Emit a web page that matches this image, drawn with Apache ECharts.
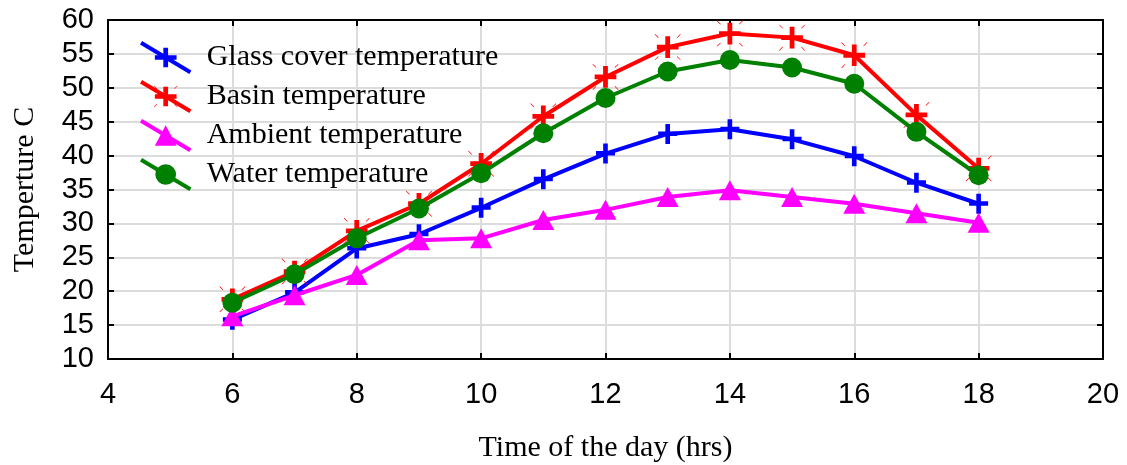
<!DOCTYPE html>
<html>
<head>
<meta charset="utf-8">
<script src="https://cdn.jsdelivr.net/npm/echarts@6/dist/echarts.min.js"></script>
<style>
  html, body { margin: 0; padding: 0; background: #ffffff; }
  #chart { width: 1127px; height: 465px; }
</style>
</head>
<body>
<div id="chart"></div>
<script>
// Hourly temperatures of a solar still
const hours = [6, 7, 8, 9, 10, 11, 12, 13, 14, 15, 16, 17, 18];
const glassCover = [15.8, 19.8, 26.3, 28.4, 32.3, 36.5, 40.3, 43.2, 43.9, 42.4, 39.9, 36.0, 32.9];
const basin      = [18.8, 22.9, 28.9, 32.9, 38.8, 45.8, 51.6, 56.0, 58.0, 57.4, 54.8, 46.0, 38.1];
const ambient    = [16.3, 19.4, 22.4, 27.5, 27.8, 30.5, 32.0, 33.9, 34.9, 33.9, 32.9, 31.5, 30.1];
const water      = [18.3, 22.5, 27.8, 32.2, 37.4, 43.3, 48.5, 52.4, 54.1, 53.0, 50.6, 43.5, 37.1];

const seriesNames = ['Glass cover temperature', 'Basin temperature', 'Ambient temperature', 'Water temperature'];
const xTitle = 'Time of the day (hrs)';
const yTitle = 'Temperture C';

const pairs = (ys) => hours.map((h, i) => [h, ys[i]]);

// Marker shapes
const plusPath = 'path://M7 0 L11.5 0 L11.5 7.5 L18.5 7.5 L18.5 12 L11.5 12 L11.5 20 L7 20 L7 12 L0 12 L0 7.5 L7 7.5 Z';
const starPlusPath = 'path://' +
  'M10.8 3 L15.2 3 L15.2 10.8 L23 10.8 L23 15.2 L15.2 15.2 L15.2 23 L10.8 23 L10.8 15.2 L3 15.2 L3 10.8 L10.8 10.8 Z ' +
  'M1 1.45 L1.45 1 L4.6 4.15 L4.15 4.6 Z M25 1.45 L24.55 1 L21.4 4.15 L21.85 4.6 Z ' +
  'M1 24.55 L1.45 25 L4.6 21.85 L4.15 21.4 Z M25 24.55 L24.55 25 L21.4 21.85 L21.85 21.4 Z';

// Legend icons: a slanted line segment with the marker at its middle
const band = 'M1.03 -1.71 L51.03 28.29 L48.97 31.71 L-1.03 1.71 Z ';
const iconGlass = 'path://' + band + 'M22.6 5 L27.4 5 L27.4 25 L22.6 25 Z M14 12.6 L36 12.6 L36 17.4 L14 17.4 Z';
const iconBasin = 'path://' + band + 'M22.6 5 L27.4 5 L27.4 25 L22.6 25 Z M14 12.6 L36 12.6 L36 17.4 L14 17.4 Z ' +
  'M13 4.45 L13.45 4 L16.3 6.85 L15.85 7.3 Z M37 4.45 L36.55 4 L33.7 6.85 L34.15 7.3 Z ' +
  'M13 25.55 L13.45 26 L16.3 23.15 L15.85 22.7 Z M37 25.55 L36.55 26 L33.7 23.15 L34.15 22.7 Z';
const iconAmbient = 'path://' + band + 'M25 4.5 L36 25.5 L14 25.5 Z';
const iconWater = 'path://' + band + 'M35.5 15 A10.5 10.5 0 1 1 14.5 15 A10.5 10.5 0 1 1 35.5 15 Z';

const colors = ['#0000ff', '#ff0000', '#ff00ff', '#008000'];
const symbols = [plusPath, starPlusPath, 'triangle', 'circle'];
const symbolSizes = [[19, 20], [26, 26], [22, 20], 20];
const icons = [iconGlass, iconBasin, iconAmbient, iconWater];
const values = [glassCover, basin, ambient, water];

const gridColor = '#dcdcdc';
const tickFont = { fontFamily: 'Liberation Sans', fontSize: 29, color: '#000' };
const titleFont = { fontFamily: 'Liberation Serif', fontSize: 30, color: '#000' };

const chart = echarts.init(document.getElementById('chart'), null, { renderer: 'canvas' });

chart.setOption({
  animation: false,
  backgroundColor: '#ffffff',
  grid: { left: 108, right: 24, top: 20, bottom: 106, containLabel: false, outerBoundsMode: 'none' },
  legend: {
    orient: 'vertical',
    left: 140,
    top: 41,
    padding: 0,
    itemWidth: 52,
    itemHeight: 33,
    itemGap: 6,
    selectedMode: false,
    itemStyle: { borderWidth: 0 },
    textStyle: { fontFamily: 'Liberation Serif', fontSize: 30, color: '#000', padding: [0, 0, 0, 10] },
    data: seriesNames.map((n, i) => ({ name: n, icon: icons[i] }))
  },
  xAxis: [
    {
      type: 'value', min: 4, max: 20, interval: 2,
      name: xTitle, nameLocation: 'middle', nameGap: 74, nameTextStyle: titleFont,
      axisLine: { show: true, onZero: false, lineStyle: { color: '#000', width: 2 } },
      axisTick: { show: true, inside: true, length: 6, lineStyle: { color: '#000', width: 2 } },
      axisLabel: Object.assign({ margin: 21 }, tickFont),
      splitLine: { show: true, lineStyle: { color: gridColor, width: 2 } }
    },
    {
      type: 'value', min: 4, max: 20, interval: 2, position: 'top',
      axisLine: { show: true, onZero: false, lineStyle: { color: '#000', width: 2 } },
      axisTick: { show: true, inside: true, length: 6, lineStyle: { color: '#000', width: 2 } },
      axisLabel: { show: false },
      splitLine: { show: false }
    }
  ],
  yAxis: [
    {
      type: 'value', min: 10, max: 60, interval: 5,
      name: yTitle, nameLocation: 'middle', nameGap: 68, nameTextStyle: titleFont,
      axisLine: { show: true, onZero: false, lineStyle: { color: '#000', width: 2 } },
      axisTick: { show: true, inside: true, length: 6, lineStyle: { color: '#000', width: 2 } },
      axisLabel: Object.assign({ margin: 14 }, tickFont),
      splitLine: { show: true, lineStyle: { color: gridColor, width: 2 } }
    },
    {
      type: 'value', min: 10, max: 60, interval: 5, position: 'right',
      axisLine: { show: true, onZero: false, lineStyle: { color: '#000', width: 2 } },
      axisTick: { show: true, inside: true, length: 6, lineStyle: { color: '#000', width: 2 } },
      axisLabel: { show: false },
      splitLine: { show: false }
    }
  ],
  series: seriesNames.map((name, i) => ({
    name: name,
    type: 'line',
    xAxisIndex: 0,
    yAxisIndex: 0,
    data: pairs(values[i]),
    color: colors[i],
    symbol: symbols[i],
    symbolSize: symbolSizes[i],
    showAllSymbol: true,
    lineStyle: { color: colors[i], width: 4 },
    itemStyle: { color: colors[i], borderWidth: 0 },
    z: 2 + i
  }))
});
</script>
</body>
</html>
